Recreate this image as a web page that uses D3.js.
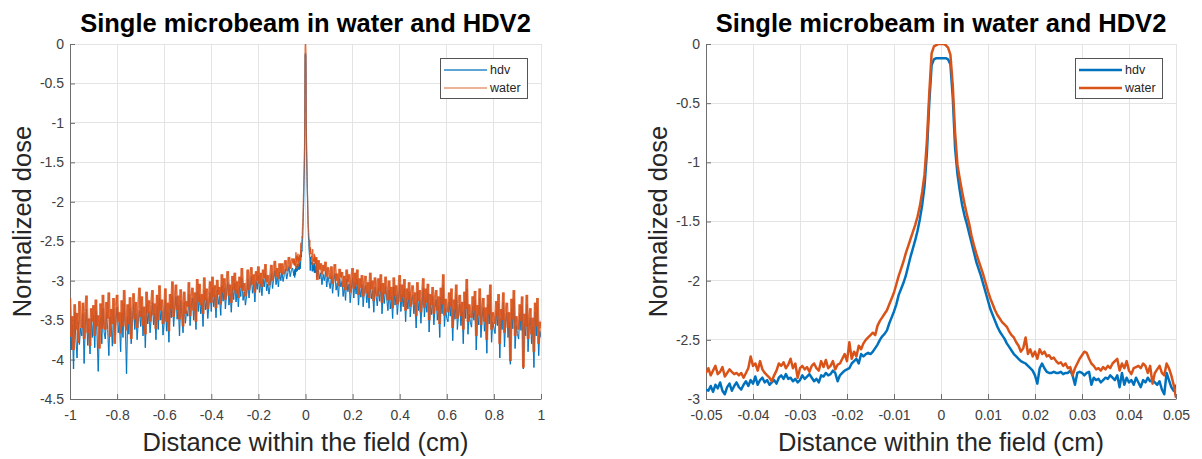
<!DOCTYPE html>
<html><head><meta charset="utf-8">
<script src="https://cdn.jsdelivr.net/npm/d3@7"></script>
<style>body{margin:0;background:#fff}svg{display:block}text{font-family:"Liberation Sans",Arial,Helvetica,sans-serif}</style>
</head><body><svg id="c" width="1202" height="459"></svg>
<script>
const seriesNames = ["hdv", "water"];
const titleText = "Single microbeam in water and HDV2";
const xLabelText = "Distance within the field (cm)";
const yLabelText = "Normalized dose";
const xTicksWide = [-1, -0.8, -0.6, -0.4, -0.2, 0, 0.2, 0.4, 0.6, 0.8, 1];
const yTicksWide = [0, -0.5, -1, -1.5, -2, -2.5, -3, -3.5, -4, -4.5];
const xTicksZoom = [-0.05, -0.04, -0.03, -0.02, -0.01, 0, 0.01, 0.02, 0.03, 0.04, 0.05];
const yTicksZoom = [0, -0.5, -1, -1.5, -2, -2.5, -3];

// fine sampling grid around the beam (step 0.0005 cm)
const fineX = d3.range(201).map(i => +(-0.05 + i * 0.0005).toFixed(4));
const fineHdv = [
-2.92,-2.93,-2.89,-2.94,-2.88,-2.91,-2.86,-2.93,-2.96,-2.90,
-2.87,-2.93,-2.89,-2.86,-2.90,-2.92,-2.88,-2.85,-2.89,-2.84,
-2.87,-2.81,-2.88,-2.84,-2.82,-2.86,-2.84,-2.88,-2.86,-2.84,
-2.87,-2.82,-2.80,-2.83,-2.79,-2.83,-2.82,-2.85,-2.83,-2.86,
-2.84,-2.80,-2.83,-2.81,-2.79,-2.82,-2.85,-2.83,-2.86,-2.80,
-2.81,-2.78,-2.80,-2.79,-2.76,-2.78,-2.85,-2.80,-2.78,-2.76,
-2.75,-2.74,-2.70,-2.68,-2.66,-2.70,-2.62,-2.64,-2.62,-2.61,
-2.62,-2.60,-2.57,-2.54,-2.50,-2.47,-2.45,-2.42,-2.36,-2.31,
-2.26,-2.20,-2.12,-2.07,-2.02,-1.96,-1.88,-1.80,-1.73,-1.66,
-1.58,-1.48,-1.36,-1.20,-0.92,-0.50,-0.18,-0.13,-0.12,-0.12,
-0.12,-0.12,-0.12,-0.13,-0.17,-0.45,-0.88,-1.10,-1.24,-1.36,
-1.45,-1.52,-1.60,-1.68,-1.76,-1.84,-1.90,-1.96,-2.03,-2.10,
-2.17,-2.24,-2.29,-2.34,-2.39,-2.43,-2.46,-2.49,-2.53,-2.56,
-2.59,-2.62,-2.64,-2.66,-2.68,-2.69,-2.70,-2.72,-2.74,-2.76,
-2.80,-2.87,-2.74,-2.70,-2.74,-2.77,-2.78,-2.78,-2.77,-2.78,
-2.78,-2.77,-2.79,-2.78,-2.78,-2.76,-2.80,-2.88,-2.78,-2.77,
-2.78,-2.80,-2.78,-2.77,-2.88,-2.82,-2.84,-2.83,-2.86,-2.84,
-2.82,-2.83,-2.80,-2.82,-2.84,-2.80,-2.90,-2.78,-2.88,-2.82,
-2.86,-2.84,-2.88,-2.82,-2.86,-2.90,-2.84,-2.86,-2.82,-2.85,
-2.84,-2.86,-2.88,-2.85,-2.92,-2.96,-2.78,-2.84,-2.90,-2.93,
-2.88];
const fineWater = [
-2.78,-2.74,-2.80,-2.76,-2.72,-2.79,-2.77,-2.73,-2.81,-2.78,
-2.75,-2.77,-2.79,-2.78,-2.80,-2.78,-2.82,-2.78,-2.74,-2.64,
-2.72,-2.70,-2.76,-2.68,-2.75,-2.78,-2.80,-2.82,-2.85,-2.80,
-2.76,-2.70,-2.72,-2.69,-2.74,-2.71,-2.66,-2.74,-2.70,-2.82,
-2.74,-2.72,-2.75,-2.73,-2.77,-2.72,-2.70,-2.74,-2.76,-2.68,
-2.73,-2.67,-2.74,-2.72,-2.68,-2.75,-2.71,-2.70,-2.66,-2.62,
-2.68,-2.52,-2.66,-2.60,-2.64,-2.55,-2.58,-2.53,-2.50,-2.48,
-2.46,-2.44,-2.46,-2.38,-2.34,-2.31,-2.28,-2.25,-2.20,-2.15,
-2.10,-2.03,-1.96,-1.90,-1.84,-1.77,-1.71,-1.65,-1.59,-1.53,
-1.46,-1.37,-1.25,-1.10,-0.82,-0.42,-0.08,-0.02,-0.01,0.00,
0.00,0.00,-0.01,-0.03,-0.09,-0.35,-0.75,-1.02,-1.14,-1.25,
-1.35,-1.44,-1.52,-1.62,-1.70,-1.77,-1.83,-1.89,-1.95,-2.02,
-2.09,-2.15,-2.20,-2.25,-2.29,-2.32,-2.35,-2.37,-2.39,-2.43,
-2.46,-2.48,-2.52,-2.55,-2.60,-2.57,-2.48,-2.62,-2.58,-2.64,
-2.60,-2.66,-2.58,-2.62,-2.60,-2.64,-2.63,-2.66,-2.65,-2.68,
-2.70,-2.69,-2.72,-2.70,-2.74,-2.73,-2.80,-2.74,-2.70,-2.66,
-2.63,-2.60,-2.61,-2.66,-2.70,-2.72,-2.75,-2.74,-2.76,-2.73,
-2.75,-2.72,-2.74,-2.70,-2.68,-2.66,-2.76,-2.70,-2.74,-2.68,
-2.76,-2.79,-2.74,-2.73,-2.72,-2.74,-2.70,-2.72,-2.78,-2.72,
-2.87,-2.78,-2.75,-2.72,-2.78,-2.80,-2.70,-2.74,-2.80,-2.88,
-2.99];

// wide field sampling grid (step 0.005 cm)
const wideLeftX = d3.range(190).map(i => +(-1 + i * 0.005).toFixed(3));
const wideRightX = d3.range(190).map(i => +(0.055 + i * 0.005).toFixed(3));
const wideLeftWater = [
-3.22,-3.71,-3.45,-3.88,-3.30,-3.62,-3.41,-3.79,-3.26,-3.55,
-3.60,-3.28,-3.74,-3.39,-3.19,-3.66,-3.48,-3.83,-3.35,-3.52,
-3.31,-3.70,-3.24,-3.58,-3.44,-3.86,-3.29,-3.61,-3.18,-3.50,
-3.62,-3.27,-3.48,-3.15,-3.71,-3.36,-3.55,-3.22,-3.80,-3.33,
-3.18,-3.52,-3.40,-3.67,-3.25,-3.58,-3.12,-3.45,-3.63,-3.30,
-3.55,-3.21,-3.74,-3.38,-3.16,-3.49,-3.27,-3.60,-3.35,-3.09,
-3.46,-3.20,-3.57,-3.33,-3.68,-3.14,-3.41,-3.25,-3.52,-3.30,
-3.12,-3.44,-3.29,-3.61,-3.18,-3.50,-3.06,-3.38,-3.24,-3.55,
-3.40,-3.10,-3.52,-3.28,-3.64,-3.17,-3.35,-3.01,-3.46,-3.22,
-3.05,-3.37,-3.19,-3.49,-3.11,-3.30,-3.58,-3.14,-3.42,-3.26,
-3.33,-3.02,-3.45,-3.20,-3.09,-3.38,-3.15,-3.52,-2.98,-3.27,
-3.04,-3.31,-3.17,-3.42,-2.96,-3.25,-3.10,-3.36,-3.19,-3.01,
-3.28,-2.95,-3.21,-3.06,-3.35,-2.99,-3.18,-3.08,-3.30,-2.92,
-3.15,-2.97,-3.24,-3.02,-2.88,-3.19,-3.05,-3.28,-2.94,-3.12,
-2.90,-3.16,-3.01,-3.22,-2.95,-3.09,-2.84,-3.13,-3.03,-3.20,
-3.08,-2.86,-3.12,-2.97,-2.83,-3.05,-2.92,-3.15,-2.88,-3.00,
-2.82,-3.04,-2.90,-3.08,-2.86,-2.97,-2.79,-3.02,-2.93,-3.06,
-2.96,-2.80,-3.00,-2.87,-2.75,-2.95,-2.84,-2.98,-2.78,-2.90,
-2.78,-2.92,-2.81,-2.74,-2.88,-2.79,-2.70,-2.85,-2.76,-2.72];
const wideLeftHdv = [
-3.45,-3.88,-3.56,-4.12,-3.40,-3.75,-3.98,-3.52,-3.81,-3.60,
-3.70,-3.42,-4.05,-3.55,-3.36,-3.82,-3.61,-3.93,-3.48,-3.72,
-3.44,-3.85,-3.38,-3.70,-4.15,-3.58,-3.47,-3.80,-3.35,-3.66,
-3.74,-3.40,-3.62,-3.95,-3.46,-3.57,-3.83,-3.36,-3.69,-3.50,
-3.33,-3.66,-3.52,-3.90,-3.41,-3.72,-3.29,-3.58,-4.18,-3.45,
-3.68,-3.35,-3.80,-3.49,-3.30,-3.62,-3.42,-3.75,-3.51,-3.38,
-3.58,-3.34,-3.70,-3.45,-3.85,-3.30,-3.55,-3.39,-3.66,-3.47,
-3.27,-3.56,-3.41,-3.75,-3.32,-3.62,-3.22,-3.50,-3.38,-3.69,
-3.52,-3.24,-3.64,-3.40,-3.78,-3.30,-3.47,-3.19,-3.58,-3.36,
-3.20,-3.49,-3.31,-3.70,-3.25,-3.43,-3.66,-3.28,-3.54,-3.38,
-3.45,-3.17,-3.57,-3.32,-3.22,-3.50,-3.27,-3.62,-3.14,-3.39,
-3.18,-3.42,-3.29,-3.58,-3.12,-3.37,-3.22,-3.48,-3.31,-3.15,
-3.39,-3.09,-3.33,-3.18,-3.47,-3.12,-3.30,-3.20,-3.44,-3.06,
-3.26,-3.10,-3.36,-3.14,-3.02,-3.31,-3.17,-3.40,-3.08,-3.24,
-3.03,-3.27,-3.12,-3.33,-3.07,-3.20,-2.97,-3.25,-3.14,-3.31,
-3.19,-2.98,-3.22,-3.08,-2.95,-3.16,-3.04,-3.27,-3.00,-3.11,
-2.94,-3.15,-3.01,-3.19,-2.98,-3.08,-2.91,-3.13,-3.04,-3.17,
-3.06,-2.91,-3.10,-2.97,-2.87,-3.05,-2.94,-3.08,-2.89,-3.00,
-2.89,-3.01,-2.92,-2.85,-2.98,-2.90,-2.82,-2.95,-2.87,-2.84];
const wideRightWater = [
-2.74,-2.86,-2.78,-2.92,-2.80,-2.88,-2.76,-2.95,-2.83,-2.90,
-2.98,-2.82,-3.04,-2.88,-2.79,-3.00,-2.91,-3.07,-2.85,-2.96,
-2.89,-3.08,-2.94,-3.12,-2.86,-3.02,-2.92,-3.15,-2.98,-2.84,
-3.10,-2.90,-3.05,-2.86,-3.18,-2.97,-3.09,-2.93,-3.20,-3.00,
-2.94,-3.16,-3.02,-3.22,-2.90,-3.11,-3.00,-3.26,-2.96,-3.08,
-3.20,-2.97,-3.14,-2.92,-3.28,-3.03,-3.17,-2.95,-3.11,-3.25,
-3.00,-3.24,-3.08,-3.35,-2.96,-3.19,-3.06,-3.30,-3.12,-2.93,
-3.27,-3.05,-3.21,-2.98,-3.38,-3.10,-3.24,-3.02,-3.33,-3.14,
-3.06,-3.30,-3.15,-3.45,-3.02,-3.26,-3.12,-3.40,-3.20,-2.97,
-3.34,-3.10,-3.28,-3.04,-3.50,-3.17,-3.31,-3.08,-3.42,-3.22,
-3.12,-3.38,-3.20,-3.55,-3.09,-3.30,-2.92,-3.44,-3.23,-3.36,
-3.40,-3.15,-3.33,-3.10,-3.60,-3.24,-3.37,-3.05,-3.48,-3.29,
-3.18,-3.45,-3.27,-3.62,-3.14,-3.36,-2.98,-3.52,-3.30,-3.41,
-3.47,-3.20,-3.38,-3.13,-3.70,-3.31,-3.44,-3.10,-3.56,-3.35,
-3.22,-3.52,-3.34,-3.75,-3.18,-3.43,-3.05,-3.62,-3.40,-3.48,
-3.55,-3.26,-3.45,-3.17,-3.80,-3.36,-3.50,-3.15,-3.66,-3.40,
-3.28,-3.60,-3.40,-4.02,-3.23,-3.49,-3.12,-3.70,-3.45,-3.55,
-3.62,-3.30,-3.51,-3.20,-4.10,-3.42,-3.58,-3.18,-3.74,-3.46,
-3.35,-3.68,-3.47,-3.90,-3.28,-3.58,-3.22,-3.80,-3.52,-3.60];
const wideRightHdv = [
-2.86,-2.98,-2.90,-3.05,-2.92,-3.00,-2.88,-3.08,-2.95,-3.02,
-3.10,-2.94,-3.16,-3.00,-2.91,-3.12,-3.03,-3.20,-2.97,-3.08,
-3.01,-3.20,-3.06,-3.25,-2.98,-3.14,-3.04,-3.28,-3.10,-2.96,
-3.22,-3.02,-3.17,-2.98,-3.31,-3.09,-3.21,-3.05,-3.33,-3.12,
-3.06,-3.28,-3.14,-3.35,-3.02,-3.23,-3.12,-3.40,-3.08,-3.20,
-3.32,-3.09,-3.26,-3.04,-3.42,-3.15,-3.29,-3.07,-3.23,-3.38,
-3.12,-3.36,-3.20,-3.48,-3.08,-3.31,-3.18,-3.43,-3.24,-3.05,
-3.39,-3.17,-3.33,-3.10,-3.52,-3.22,-3.36,-3.14,-3.46,-3.26,
-3.18,-3.42,-3.27,-3.60,-3.14,-3.38,-3.24,-3.54,-3.32,-3.09,
-3.46,-3.22,-3.40,-3.16,-3.65,-3.29,-3.43,-3.20,-3.56,-3.34,
-3.24,-3.50,-3.32,-3.72,-3.21,-3.42,-3.05,-3.58,-3.35,-3.48,
-3.52,-3.27,-3.45,-3.22,-3.76,-3.36,-3.49,-3.17,-3.62,-3.41,
-3.30,-3.57,-3.39,-3.80,-3.26,-3.48,-3.10,-3.68,-3.42,-3.53,
-3.59,-3.32,-3.50,-3.25,-3.88,-3.43,-3.56,-3.22,-3.72,-3.47,
-3.34,-3.64,-3.46,-3.92,-3.30,-3.55,-3.17,-3.78,-3.52,-3.60,
-3.67,-3.38,-3.57,-3.29,-3.98,-3.48,-3.62,-3.27,-3.84,-3.52,
-3.40,-3.72,-3.52,-4.06,-3.35,-3.61,-3.24,-3.86,-3.57,-3.67,
-3.74,-3.42,-3.63,-3.32,-4.12,-3.54,-3.70,-3.30,-3.90,-3.58,
-3.47,-3.80,-3.59,-4.10,-3.40,-3.70,-3.34,-3.95,-3.64,-3.72];

const colorOf = { hdv: "#0072BD", water: "#D95319" };
const zip = (xs, ys) => xs.map((x, i) => [x, ys[i]]);

const wideData = {
  hdv: zip(wideLeftX, wideLeftHdv).concat(zip(fineX, fineHdv), zip(wideRightX, wideRightHdv)),
  water: zip(wideLeftX, wideLeftWater).concat(zip(fineX, fineWater), zip(wideRightX, wideRightWater))
};
const zoomData = { hdv: zip(fineX, fineHdv), water: zip(fineX, fineWater) };

const svg = d3.select("#c");
const plotTop = 44, plotBottom = 399;
const AX = "#6e6e6e", GRID = "#e4e4e4", TXT = "#404040";

function panel(cfg) {
  const x = d3.scaleLinear().domain(cfg.xDomain).range([cfg.left, cfg.right]);
  const y = d3.scaleLinear().domain(cfg.yDomain).range([plotBottom, plotTop]);
  const g = svg.append("g");
  const id = "clip" + cfg.key;
  svg.append("clipPath").attr("id", id).append("rect")
    .attr("x", cfg.left).attr("y", plotTop).attr("width", cfg.right - cfg.left).attr("height", plotBottom - plotTop);

  // grid
  g.append("g").selectAll("line").data(cfg.xTicks).join("line")
    .attr("x1", d => x(d)).attr("x2", d => x(d)).attr("y1", plotTop).attr("y2", plotBottom)
    .attr("stroke", GRID).attr("stroke-width", 1).attr("shape-rendering", "crispEdges");
  g.append("g").selectAll("line").data(cfg.yTicks).join("line")
    .attr("y1", d => y(d)).attr("y2", d => y(d)).attr("x1", cfg.left).attr("x2", cfg.right)
    .attr("stroke", GRID).attr("stroke-width", 1).attr("shape-rendering", "crispEdges");

  // axes
  const fmt = d => String(d);
  const ax = g.append("g").attr("transform", `translate(0,${plotBottom})`)
    .call(d3.axisBottom(x).tickValues(cfg.xTicks).tickFormat(fmt).tickSize(-5).tickSizeOuter(0).tickPadding(11));
  const ay = g.append("g").attr("transform", `translate(${cfg.left},0)`)
    .call(d3.axisLeft(y).tickValues(cfg.yTicks).tickFormat(fmt).tickSize(-5).tickSizeOuter(0).tickPadding(6));
  [ax, ay].forEach(a => {
    a.attr("font-family", null).attr("font-size", null);
    a.select(".domain").attr("stroke", AX).attr("stroke-width", 1);
    a.selectAll(".tick line").attr("stroke", AX);
    a.selectAll(".tick text").attr("fill", TXT).style("font-size", "14px");
  });

  // lines
  const lg = g.append("g").attr("clip-path", `url(#${id})`);
  seriesNames.forEach(s => {
    const pts = cfg.data[s];
    if (cfg.segmented) {
      // each segment drawn separately so that the semi-transparent strokes build up where dense
      const segs = d3.pairs(pts);
      const inCore = d => Math.abs(d[0][0]) < 0.05 && Math.abs(d[1][0]) < 0.05;
      lg.append("g").selectAll("line").data(segs).join("line")
        .attr("x1", d => x(d[0][0])).attr("y1", d => y(d[0][1]))
        .attr("x2", d => x(d[1][0])).attr("y2", d => y(d[1][1]))
        .attr("stroke", colorOf[s])
        .attr("stroke-width", d => inCore(d) ? cfg.coreLw : cfg.lw[s])
        .attr("stroke-opacity", cfg.op[s]);
    } else {
      const line = d3.line().x(d => x(d[0])).y(d => y(d[1]));
      lg.append("path").datum(pts).attr("d", line)
        .attr("fill", "none").attr("stroke", colorOf[s])
        .attr("stroke-width", cfg.lw[s]).attr("stroke-opacity", cfg.op[s])
        .attr("stroke-linejoin", "round");
    }
  });

  // title and labels
  const cx = (cfg.left + cfg.right) / 2;
  g.append("text").attr("x", cx).attr("y", 32).attr("text-anchor", "middle")
    .style("font-size", "25.5px").style("font-weight", "bold").attr("fill", "#000").text(titleText);
  g.append("text").attr("x", cx).attr("y", 451).attr("text-anchor", "middle")
    .style("font-size", "25.5px").attr("fill", "#262626").text(xLabelText);
  g.append("text").attr("transform", `translate(${cfg.ylabX},${(plotTop + plotBottom) / 2}) rotate(-90)`)
    .attr("text-anchor", "middle").style("font-size", "25.5px").attr("fill", "#262626").text(yLabelText);

  // legend
  const lx = cfg.right - 101, ly = 58;
  const leg = g.append("g").attr("transform", `translate(${lx},${ly})`);
  leg.append("rect").attr("x", 0.5).attr("y", 0.5).attr("width", 87).attr("height", 40)
    .attr("fill", "#fff").attr("stroke", "#555").attr("stroke-width", 1);
  seriesNames.forEach((s, i) => {
    const yy = 12 + i * 18;
    leg.append("line").attr("x1", 4).attr("x2", 47).attr("y1", yy).attr("y2", yy)
      .attr("stroke", colorOf[s]).attr("stroke-width", cfg.legLw).attr("stroke-opacity", cfg.legOp[s]);
    leg.append("text").attr("x", 50).attr("y", yy).attr("dy", "0.35em")
      .style("font-size", "12.5px").attr("fill", "#262626").text(s);
  });
}

panel({ key: "L", left: 70, right: 541, xDomain: [-1, 1], yDomain: [-4.5, 0],
  xTicks: xTicksWide, yTicks: yTicksWide, data: wideData, lw: { hdv: 1.2, water: 2.6 }, coreLw: 1.2,
  segmented: true, op: { hdv: 0.9, water: 0.75 }, legLw: 1.3, legOp: { hdv: 0.85, water: 0.6 }, ylabX: 30.5 });
panel({ key: "R", left: 706, right: 1176, xDomain: [-0.05, 0.05], yDomain: [-3, 0],
  xTicks: xTicksZoom, yTicks: yTicksZoom, data: zoomData, lw: { hdv: 2.5, water: 2.5 }, segmented: false,
  op: { hdv: 1, water: 1 }, legLw: 2.5, legOp: { hdv: 1, water: 1 }, ylabX: 667 });
</script></body></html>
